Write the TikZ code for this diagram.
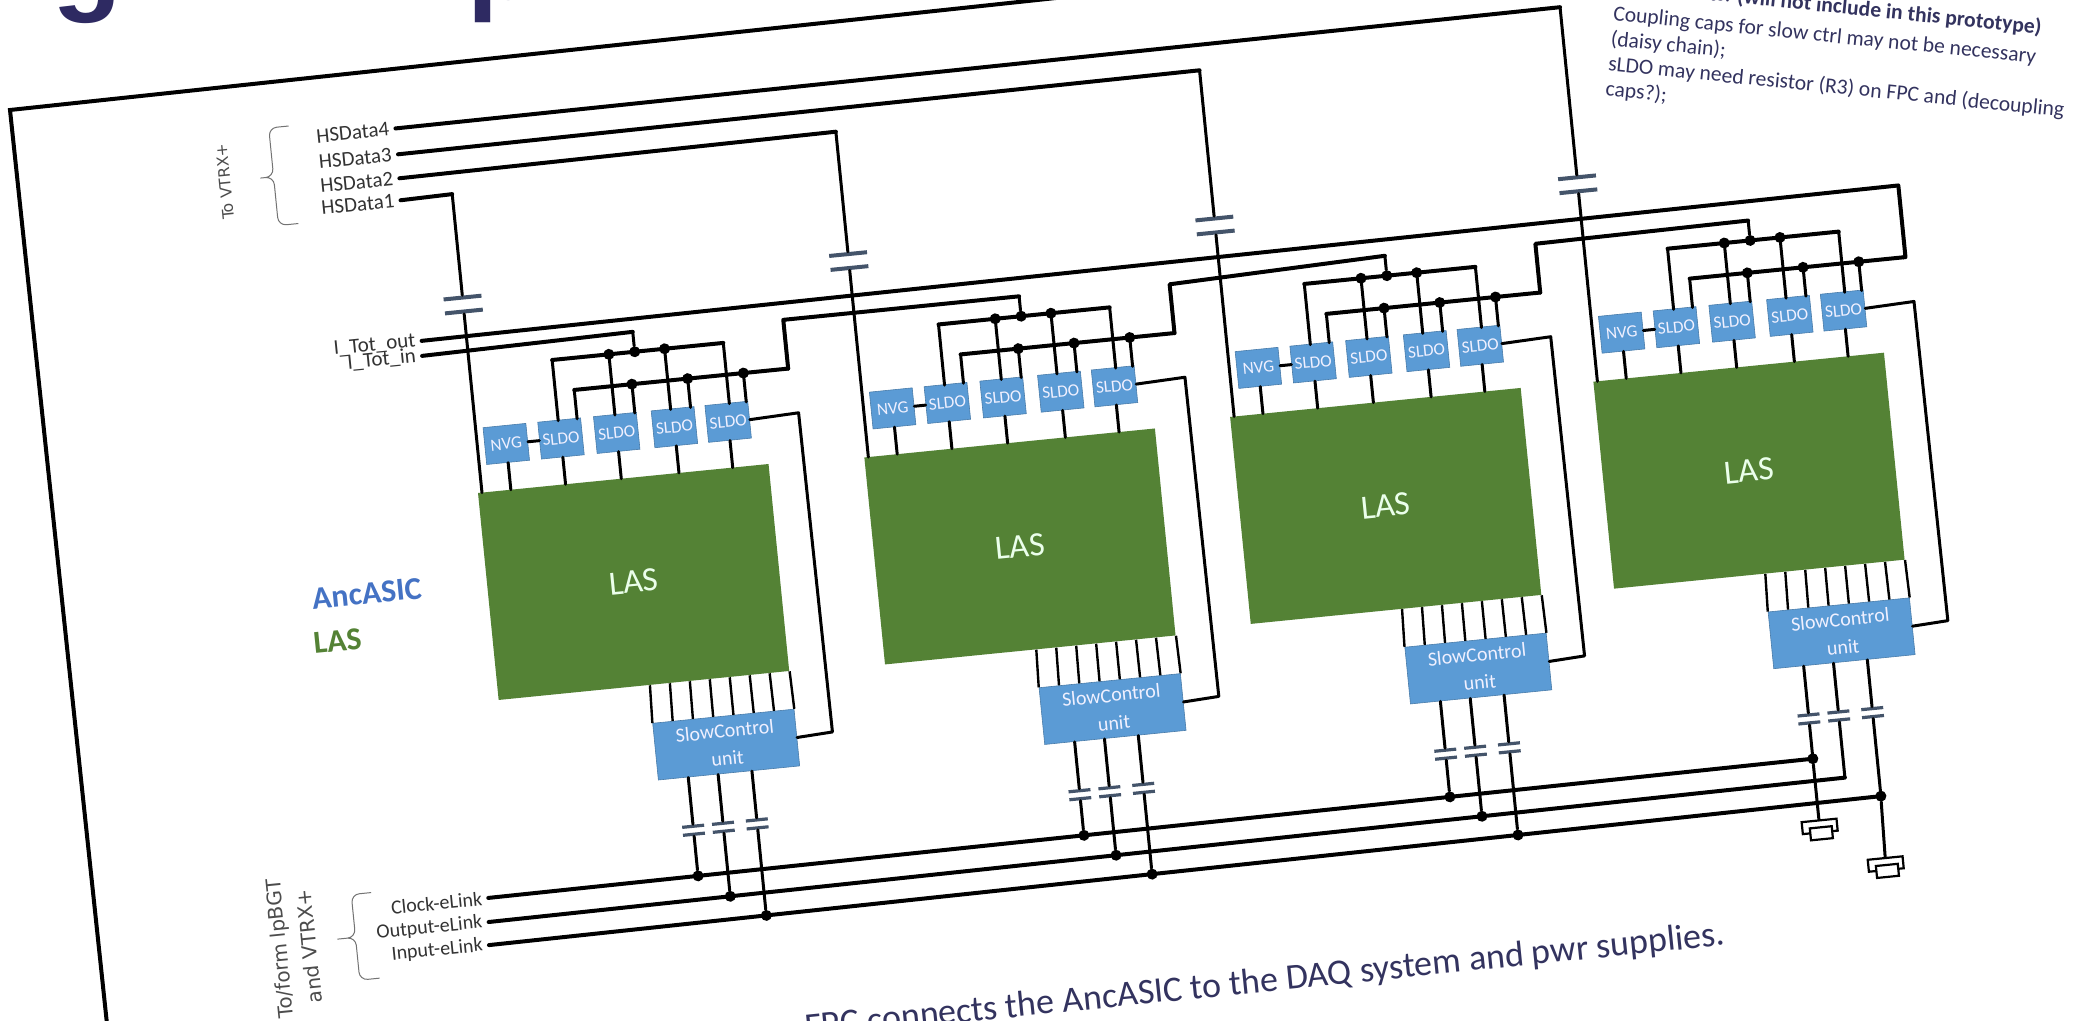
\documentclass[tikz,border=0pt]{standalone}
\usepackage{fontspec}
\setmainfont{Carlito}
\newfontfamily\widefont{DejaVu Sans}
\newfontfamily\titlefont{Liberation Sans}
\usetikzlibrary{calc}

\definecolor{lasgreen}{HTML}{548235}
\definecolor{ldoblue}{HTML}{5B9BD5}
\definecolor{ancblue}{HTML}{4472C4}
\definecolor{slidenavy}{HTML}{2E2A62}
\definecolor{noteink}{HTML}{33335F}
\definecolor{plateink}{HTML}{44546A}

\begin{document}
\begin{tikzpicture}[x=0.5pt, y=-0.5pt,
    % Node styles
    lasbox/.style={
        fill=lasgreen, minimum width=146pt, minimum height=104pt, inner sep=0pt,
        text=green!8, font=\fontsize{17}{20}\selectfont
    },
    ldobox/.style={
        draw=ldoblue!80!black, line width=0.3pt, fill=ldoblue, minimum width=21.5pt, minimum height=18.5pt,
        inner sep=0pt, text=blue!6, font=\fontsize{8.6}{10}\selectfont
    },
    scubox/.style={
        draw=ldoblue!80!black, line width=0.3pt, fill=ldoblue, minimum width=71pt, minimum height=28.5pt,
        inner sep=0pt, align=center, text=blue!6, font=\fontsize{10}{14}\selectfont
    },
    hslabel/.style={
        anchor=east, inner sep=3pt, text=black!80, font=\fontsize{10.5}{12}\selectfont
    },
    grouplabel/.style={
        align=center, text=black!70, font=\widefont\fontsize{7.8}{11}\selectfont
    },
    wire/.style={line width=2pt, line cap=round, line join=round},
    link/.style={line width=1.5pt, line cap=round, line join=round},
    dotnode/.style={circle, fill=black, minimum size=5.5pt, inner sep=0pt},
    teenode/.style={inner sep=0pt, minimum size=0pt},
    capplate/.style={fill=plateink, minimum width=19pt, minimum height=2pt, inner sep=0pt},
    smallplate/.style={fill=plateink, minimum width=11pt, minimum height=1.6pt, inner sep=0pt},
    termbox/.style={draw=black, line width=1.1pt, fill=white, minimum height=6pt, inner sep=0pt},
    bracket/.style={draw=black!55, line width=0.5pt, rounded corners=4pt}
]

\fill[white] (0,0) rectangle (2077,1021);
\useasboundingbox (0,0) rectangle (2077,1021);
\clip (0,0) rectangle (2077,1021);

% =============================================
% SLIDE AROUND THE PICTURE
% =============================================
\node[anchor=base, inner sep=0pt, text=slidenavy, font=\titlefont\bfseries\fontsize{57}{60}\selectfont] (titleg) at (87,0) {g};
\node[anchor=base west, inner sep=0pt, text=slidenavy, font=\titlefont\bfseries\fontsize{56}{60}\selectfont] (titlep) at (467,0) {p};

\coordinate (sheetend) at (1056,-2);
\coordinate (sheetcorner) at (10,110);
\coordinate (sheetfoot) at (107,1024);
\draw[line width=2pt, line join=miter] (sheetend) -- (sheetcorner) -- (sheetfoot);

\node[anchor=base east, rotate=-5.8, inner sep=0pt, text=noteink, font=\fontsize{10.8}{12}\selectfont] (noteb) at (2041,34)
    {ents: \textbf{(will not include in this prototype)}};
\node[anchor=north west, rotate=-5.8, inner sep=0pt, align=left, text=noteink, font=\fontsize{10.8}{12.6}\selectfont] (notea) at (1614,5)
    {Coupling caps for slow ctrl may not be necessary\\(daisy chain);\\sLDO may need resistor (R3) on FPC and (decoupling\\caps?);};
\node[anchor=base east, rotate=5.8, inner sep=0pt, text=noteink, font=\fontsize{18}{20}\selectfont] (caption) at (1726,945)
    {FPC connects the AncASIC to the DAQ system and pwr supplies.};

% =============================================
% SCHEMATIC
% =============================================
\begin{scope}[shift={(478,493)}, rotate=5.7, transform shape]

% Outside labels
\node[hslabel] (hs4) at (-46,-371) {HSData4};
\node[hslabel] (hs3) at (-46,-345) {HSData3};
\node[hslabel] (hs2) at (-47,-321) {HSData2};
\node[hslabel] (hs1) at (-48,-299) {HSData1};
\node[hslabel] (itotout) at (-41,-157) {I\_Tot\_out};
\node[hslabel] (itotin) at (-42,-142) {I\_Tot\_in};
\node[hslabel, font=\fontsize{10}{12}\selectfont] (clock) at (-30,404) {Clock-eLink};
\node[hslabel, font=\fontsize{10}{12}\selectfont] (outp) at (-32,428) {Output-eLink};
\node[hslabel, font=\fontsize{10}{12}\selectfont] (inp) at (-34,451) {Input-eLink};

\node[anchor=west, inner sep=0pt, text=ancblue, font=\bfseries\fontsize{16}{18}\selectfont] (ancname) at (-176,89) {AncASIC};
\node[anchor=west, inner sep=0pt, text=lasgreen, font=\bfseries\fontsize{16}{18}\selectfont] (lasname) at (-179,133) {LAS};

\node[grouplabel, rotate=90] (tovtrx) at (-221,-335) {To VTRX+};
\node[grouplabel, rotate=90, font=\widefont\fontsize{10}{15}\selectfont] (toform) at (-228,434) {To/form lpBGT\\and VTRX+};

\draw[bracket] (-152,-384) -- (-172,-384) -- (-172,-335) -- (-190,-335) -- (-172,-335) -- (-172,-286) -- (-152,-286);
\draw[bracket] (-146,387) -- (-166,387) -- (-166,430) -- (-189,430) -- (-166,430) -- (-166,473) -- (-146,473);

% Ends of the eLink lines
\coordinate (clkend) at (1302,397);
\coordinate (outend) at (1332,419);
\coordinate (inend) at (1366,441);

% One module per HSData line
\foreach \m/\sx/\sy/\ds/\hb/\cb in {1/0/0/dotnode/-300/-189, 2/388/3/dotnode/-327/-197, 3/756/-1/dotnode/-348/-192, 4/1121/0/teenode/-376/-198}{
\begin{scope}[shift={(\sx,\sy)}]

    \node[lasbox] (las\m) at (146,104) {LAS};
    \node[scubox] (scu\m) at (222,275) {SlowControl\\unit};
    \node[ldobox] (nvg\m) at (33,-46) {NVG};

    % HSData line through its capacitor
    \node[capplate] (capt\m) at (4,\cb-7) {};
    \node[capplate] (capb\m) at (4,\cb+7) {};
    \coordinate (hc\m) at (4,\hb);
    \coordinate (hf\m) at (4,0);
    \draw[wire] (hs\m.east) -- (hc\m);
    \draw[link] (hc\m) -- (capt\m);
    \draw[link] (capb\m) -- (hf\m);

    % Regulators and their two supply buses
    \foreach \sn/\cx/\ua/\la/\us/\ls in {A/88/87/106/teenode/teenode, B/144/144/164/dotnode/dotnode, C/202/200/220/dotnode/dotnode, D/256/259/276/teenode/dotnode}{
        \node[ldobox] (ldo\sn\m) at (\cx,-46) {SLDO};
        \node[\us] (hi\sn\m) at (\ua,-125) {};
        \node[\ls] (lo\sn\m) at (\la,-93) {};
        \coordinate (hip\sn\m) at (\ua,-64);
        \coordinate (lop\sn\m) at (\la,-64);
        \coordinate (lasin\sn\m) at (\cx,0);
        \draw[link] (hi\sn\m.center) -- (hip\sn\m);
        \draw[link] (lo\sn\m.center) -- (lop\sn\m);
        \draw[link] (ldo\sn\m.south) -- (lasin\sn\m);
    }
    \coordinate (lasinn\m) at (33,0);
    \draw[link] (nvg\m.south) -- (lasinn\m);
    \draw[link] (nvg\m.east) -- (ldoA\m.west);

    \coordinate (fc\m) at (170,-145);
    \node[dotnode] (fd\m) at (170,-125) {};
    \coordinate (rb\m) at (321,-93);
    \coordinate (rt\m) at (321,-142);
    \draw[wire] (hiA\m.center) -- (hiD\m.center);
    \draw[wire] (loA\m.center) -- (rb\m);
    \draw[link] (fc\m) -- (fd\m);

    % Return line of the last regulator
    \coordinate (rtn\m) at (327,-48);
    \coordinate (rbn\m) at (329,273);
    \draw[link] (ldoD\m.east) -- (rtn\m) -- (rbn\m) -- (scu\m.east);

    % Eight links between chip and control unit
    \foreach \k in {0,...,7}{
        \pgfmathsetmacro{\tk}{(152+20*\k)/292}
        \pgfmathsetmacro{\tu}{\k/7}
        \draw[line width=1.2pt] ($(las\m.south west)!\tk!(las\m.south east)$) -- ($(scu\m.north west)!\tu!(scu\m.north east)$);
    }

    % Three eLink taps
    \foreach \lk/\xa/\bl/\bx/\bw in {clk/181/clock/30/1332, out/211/outp/32/1364, in/245/inp/34/1400}{
        \coordinate (sb\lk\m) at (\xa,304);
        \node[smallplate] (sct\lk\m) at (\xa,353) {};
        \node[smallplate] (scb\lk\m) at (\xa,361) {};
        \pgfmathsetmacro{\tb}{(\sx+\xa+\bx)/\bw}
        \ifnum\m=4
            \coordinate (tap\lk\m) at ($(\bl.east)!\tb!(\lk end)$);
        \else
            \node[dotnode] (tap\lk\m) at ($(\bl.east)!\tb!(\lk end)$) {};
        \fi
        \draw[link] (sb\lk\m) -- (sct\lk\m);
        \draw[link] (scb\lk\m) -- (tap\lk\m);
    }
\end{scope}
}

% =============================================
% LONG LINES
% =============================================
\draw[wire] (itotin.east) -- (fc1);
\foreach \p/\q in {1/2, 2/3, 3/4}{
    \draw[wire] (rb\p) -- (rt\p) -- (fc\q);
}
\coordinate (backb) at (1444,-93);
\coordinate (backt) at (1444,-165);
\draw[wire] (rb4) -- (backb) -- (backt) -- (itotout.east);

\draw[wire] (clock.east) -- (clkend);
\draw[wire] (outp.east) -- (outend);
\draw[wire] (inp.east) -- (inend);

% Terminations at the far end
\node[dotnode] (clkdot) at (clkend) {};
\node[dotnode] (indot) at (inend) {};
\node[termbox, minimum width=17.5pt] (terma) at (1302,465) {};
\node[termbox, minimum width=11pt] (termai) at (1303,472) {};
\node[termbox, minimum width=17.5pt] (termb) at (1364,509) {};
\node[termbox, minimum width=11pt] (termbi) at (1365,516) {};
\draw[link] (clkdot) -- (terma);
\draw[link] (indot) -- (termb);

\end{scope}

\end{tikzpicture}
\end{document}
